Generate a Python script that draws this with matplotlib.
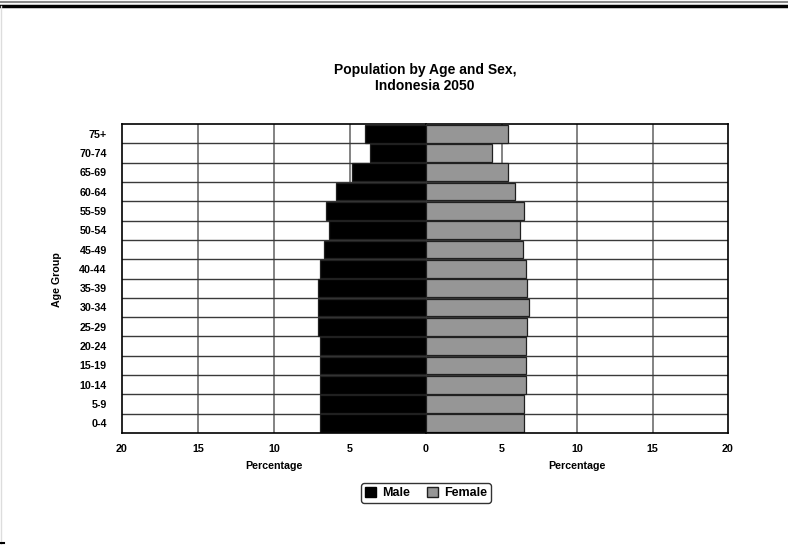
import matplotlib
matplotlib.use("Agg")
import matplotlib.pyplot as plt
from matplotlib.lines import Line2D
from matplotlib.patches import Patch

plt.rcParams['font.family'] = ['Liberation Sans', 'DejaVu Sans']
plt.rcParams['font.weight'] = 'bold'

age_groups = ["0-4", "5-9", "10-14", "15-19", "20-24", "25-29", "30-34", "35-39",
              "40-44", "45-49", "50-54", "55-59", "60-64", "65-69", "70-74", "75+"]
male = [7.0, 7.0, 7.0, 7.0, 7.0, 7.1, 7.1, 7.1, 7.0, 6.7, 6.4, 6.6, 5.9, 4.9, 3.7, 4.0]
female = [6.5, 6.5, 6.6, 6.6, 6.6, 6.7, 6.8, 6.7, 6.6, 6.4, 6.2, 6.5, 5.9, 5.4, 4.4, 5.4]
x_ticks = [0, 5, 10, 15, 20]

W, H = 788, 545
fig = plt.figure(figsize=(W / 100, H / 100), dpi=100)
fig.patch.set_facecolor('white')

def px_axes(x0, y0, x1, y1):
    return fig.add_axes([x0 / W, 1 - y1 / H, (x1 - x0) / W, (y1 - y0) / H])

ax_m = px_axes(122, 124, 426, 433)
ax_f = px_axes(426, 124, 728, 433)

FS = 7.7
ypos = list(range(len(age_groups)))
for ax, vals, color in ((ax_m, male, 'black'), (ax_f, female, '#969696')):
    ax.set_xlim(0, 20)
    ax.set_ylim(-0.5, len(age_groups) - 0.5)
    for xv in x_ticks[1:-1]:
        ax.axvline(xv, color='#7a7a7a', lw=1.3, zorder=1)
    for k in range(len(age_groups) - 1):
        ax.axhline(k + 0.5, color='#3a3a3a', lw=1.0, zorder=1)
    ax.barh(ypos, vals, height=0.92, color=color, edgecolor='#202020',
            linewidth=0.9, zorder=2)
    ax.set_xticks(x_ticks)
    ax.tick_params(length=0, labelsize=FS, pad=8)
    for s in ax.spines.values():
        s.set_linewidth(1.2)
        s.set_color('black')
    ax.set_xlabel("Percentage", fontsize=FS, fontweight='bold', labelpad=5)

ax_m.invert_xaxis()
ax_m.spines['right'].set_visible(False)
ax_f.spines['left'].set_visible(False)
ax_m.set_yticks(ypos)
ax_m.set_yticklabels(age_groups, fontsize=FS, fontweight='bold')
ax_m.tick_params(axis='y', pad=11)
ax_f.set_yticks([])
ax_f.set_xticklabels(["", "5", "10", "15", "20"])
for lab in ax_m.get_xticklabels() + ax_f.get_xticklabels():
    lab.set_fontweight('bold')

fig.text(57 / W, 1 - 280 / H, "Age Group", rotation=90, ha='center', va='center',
         fontsize=FS, fontweight='bold')
fig.text(425 / W, 1 - 78 / H, "Population by Age and Sex,\nIndonesia 2050",
         ha='center', va='center', fontsize=10, fontweight='bold', linespacing=1.2)

handles = [Patch(facecolor='black', edgecolor='black', label='Male'),
           Patch(facecolor='#969696', edgecolor='#202020', label='Female')]
leg = fig.legend(handles=handles, loc='center', bbox_to_anchor=(426 / W, 1 - 493 / H),
                 ncol=2, frameon=True, fancybox=True, handlelength=0.85,
                 handleheight=0.85, handletextpad=0.5, columnspacing=1.4,
                 borderpad=0.3, prop={'weight': 'bold', 'size': 9})
leg.get_frame().set_edgecolor('black')
leg.get_frame().set_linewidth(1.0)

# page frame lines
fig.add_artist(Line2D([0, 1], [1 - 1.5 / H, 1 - 1.5 / H], color='#888888', lw=1.5))
fig.add_artist(Line2D([0, 1], [1 - 6 / H, 1 - 6 / H], color='black', lw=2.5))
fig.add_artist(Line2D([0.5 / W, 0.5 / W], [0, 1 - 6 / H], color='#dddddd', lw=1))
fig.add_artist(Line2D([0, 4 / W], [1 - 543 / H, 1 - 543 / H], color='black', lw=1.5))

fig.savefig("out.png", dpi=100, facecolor='white')
